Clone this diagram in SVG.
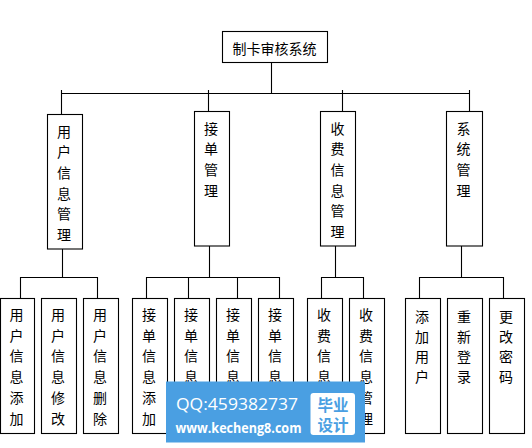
<svg xmlns="http://www.w3.org/2000/svg" width="532" height="448" viewBox="0 0 532 448">
<style>
.box{fill:#fff;stroke:#000;stroke-width:1.1}
.ln{fill:none;stroke:#000;stroke-width:1.1}
.t{font-family:"Noto Sans CJK SC","Noto Sans",sans-serif;font-size:14px;fill:#000;text-anchor:middle}
.wm{font-family:"Open Sans","Liberation Sans",sans-serif;fill:#fff}
.wc{font-family:"Noto Sans CJK SC",sans-serif;fill:#4a9fe2;font-size:15.5px;text-anchor:middle;font-weight:bold}
</style>
<rect width="532" height="448" fill="#fff"/>
<g id="connectors">
<path class="ln" d="M271.5,62 V93.5 M61.5,93.5 H469.5 M61.5,90 V114.5 M208.5,90 V111.5 M342.5,90 V111.5 M469.5,90 V111.5"/>
<path class="ln" d="M62.5,249 V277.5 M209.5,246 V277.5 M335.5,246 V277.5 M461.5,246 V277.5"/>
<path class="ln" d="M20.5,298.5 V277.5 H97.5 V298.5 M146.5,298.5 V277.5 H279.5 V298.5 M188.5,277.5 V298.5 M237.5,277.5 V298.5 M321.5,298.5 V277.5 H363.5 V298.5 M419.5,298.5 V277.5 H503.5 V298.5"/>
</g>
<g id="root"><rect class="box" x="222.5" y="31.5" width="105" height="31"/><text class="t" x="274.5" y="54">制卡审核系统</text></g>
<g id="n-yonghu"><rect class="box" x="47.5" y="114.5" width="35" height="134.5"/><text class="t"><tspan x="64" y="136.5">用</tspan><tspan x="64" y="157.2">户</tspan><tspan x="64" y="177.9">信</tspan><tspan x="64" y="198.6">息</tspan><tspan x="64" y="219.3">管</tspan><tspan x="64" y="240">理</tspan></text></g>
<g id="n-jiedan"><rect class="box" x="194.5" y="111.5" width="35" height="134.5"/><text class="t"><tspan x="211" y="133.5">接</tspan><tspan x="211" y="154.2">单</tspan><tspan x="211" y="174.9">管</tspan><tspan x="211" y="195.6">理</tspan></text></g>
<g id="n-shoufei"><rect class="box" x="320.5" y="111.5" width="35" height="134.5"/><text class="t"><tspan x="337.5" y="133.5">收</tspan><tspan x="337.5" y="154.2">费</tspan><tspan x="337.5" y="174.9">信</tspan><tspan x="337.5" y="195.6">息</tspan><tspan x="337.5" y="216.3">管</tspan><tspan x="337.5" y="237">理</tspan></text></g>
<g id="n-xitong"><rect class="box" x="446.5" y="111.5" width="36" height="134.5"/><text class="t"><tspan x="463.5" y="133.5">系</tspan><tspan x="463.5" y="154.2">统</tspan><tspan x="463.5" y="174.9">管</tspan><tspan x="463.5" y="195.6">理</tspan></text></g>
<g id="yh-add"><rect class="box" x="0.5" y="298.5" width="34" height="135"/><text class="t"><tspan x="16.5" y="320">用</tspan><tspan x="16.5" y="340.7">户</tspan><tspan x="16.5" y="361.4">信</tspan><tspan x="16.5" y="382.1">息</tspan><tspan x="16.5" y="402.8">添</tspan><tspan x="16.5" y="423.5">加</tspan></text></g>
<g id="yh-edit"><rect class="box" x="41.5" y="298.5" width="35" height="135"/><text class="t"><tspan x="58" y="320">用</tspan><tspan x="58" y="340.7">户</tspan><tspan x="58" y="361.4">信</tspan><tspan x="58" y="382.1">息</tspan><tspan x="58" y="402.8">修</tspan><tspan x="58" y="423.5">改</tspan></text></g>
<g id="yh-del"><rect class="box" x="83.5" y="298.5" width="35" height="135"/><text class="t"><tspan x="100" y="320">用</tspan><tspan x="100" y="340.7">户</tspan><tspan x="100" y="361.4">信</tspan><tspan x="100" y="382.1">息</tspan><tspan x="100" y="402.8">删</tspan><tspan x="100" y="423.5">除</tspan></text></g>
<g id="jd-add"><rect class="box" x="132.5" y="298.5" width="35" height="135"/><text class="t"><tspan x="149" y="320">接</tspan><tspan x="149" y="340.7">单</tspan><tspan x="149" y="361.4">信</tspan><tspan x="149" y="382.1">息</tspan><tspan x="149" y="402.8">添</tspan><tspan x="149" y="423.5">加</tspan></text></g>
<g id="jd-2"><rect class="box" x="174.5" y="298.5" width="35" height="135"/><text class="t"><tspan x="191" y="320">接</tspan><tspan x="191" y="340.7">单</tspan><tspan x="191" y="361.4">信</tspan><tspan x="191" y="382.1">息</tspan></text></g>
<g id="jd-3"><rect class="box" x="216.5" y="298.5" width="35" height="135"/><text class="t"><tspan x="233" y="320">接</tspan><tspan x="233" y="340.7">单</tspan><tspan x="233" y="361.4">信</tspan><tspan x="233" y="382.1">息</tspan></text></g>
<g id="jd-4"><rect class="box" x="258.5" y="298.5" width="35" height="135"/><text class="t"><tspan x="275" y="320">接</tspan><tspan x="275" y="340.7">单</tspan><tspan x="275" y="361.4">信</tspan><tspan x="275" y="382.1">息</tspan></text></g>
<g id="sf-1"><rect class="box" x="307.5" y="298.5" width="35" height="135"/><text class="t"><tspan x="324" y="320">收</tspan><tspan x="324" y="340.7">费</tspan><tspan x="324" y="361.4">信</tspan><tspan x="324" y="382.1">息</tspan></text></g>
<g id="sf-2"><rect class="box" x="349.5" y="298.5" width="35" height="135"/><text class="t"><tspan x="366" y="320">收</tspan><tspan x="366" y="340.7">费</tspan><tspan x="366" y="361.4">信</tspan><tspan x="366" y="382.1">息</tspan><tspan x="366" y="402.8">管</tspan><tspan x="366" y="423.5">理</tspan></text></g>
<g id="xt-add"><rect class="box" x="405.5" y="298.5" width="35" height="135"/><text class="t"><tspan x="422" y="321.5">添</tspan><tspan x="422" y="342">加</tspan><tspan x="422" y="362">用</tspan><tspan x="422" y="382">户</tspan></text></g>
<g id="xt-relogin"><rect class="box" x="447.5" y="298.5" width="35" height="135"/><text class="t"><tspan x="464" y="321.5">重</tspan><tspan x="464" y="342">新</tspan><tspan x="464" y="362">登</tspan><tspan x="464" y="382">录</tspan></text></g>
<g id="xt-pwd"><rect class="box" x="489.5" y="298.5" width="35" height="135"/><text class="t"><tspan x="506" y="321.5">更</tspan><tspan x="506" y="342">改</tspan><tspan x="506" y="362">密</tspan><tspan x="506" y="382">码</tspan></text></g>
<g id="watermark">
<rect x="166" y="381.5" width="199" height="61" fill="#4a9fe2"/>
<rect x="310.5" y="393" width="44.5" height="42" rx="3" fill="#fff"/>
<text class="wm" x="176" y="410" font-size="17" textLength="122" lengthAdjust="spacingAndGlyphs">QQ:459382737</text>
<text class="wm" x="175.5" y="432.5" font-size="13.5" font-weight="bold" textLength="126" lengthAdjust="spacingAndGlyphs">www.kecheng8.com</text>
<text class="wc" x="333" y="411">毕业</text>
<text class="wc" x="333" y="431">设计</text>
</g>
</svg>
